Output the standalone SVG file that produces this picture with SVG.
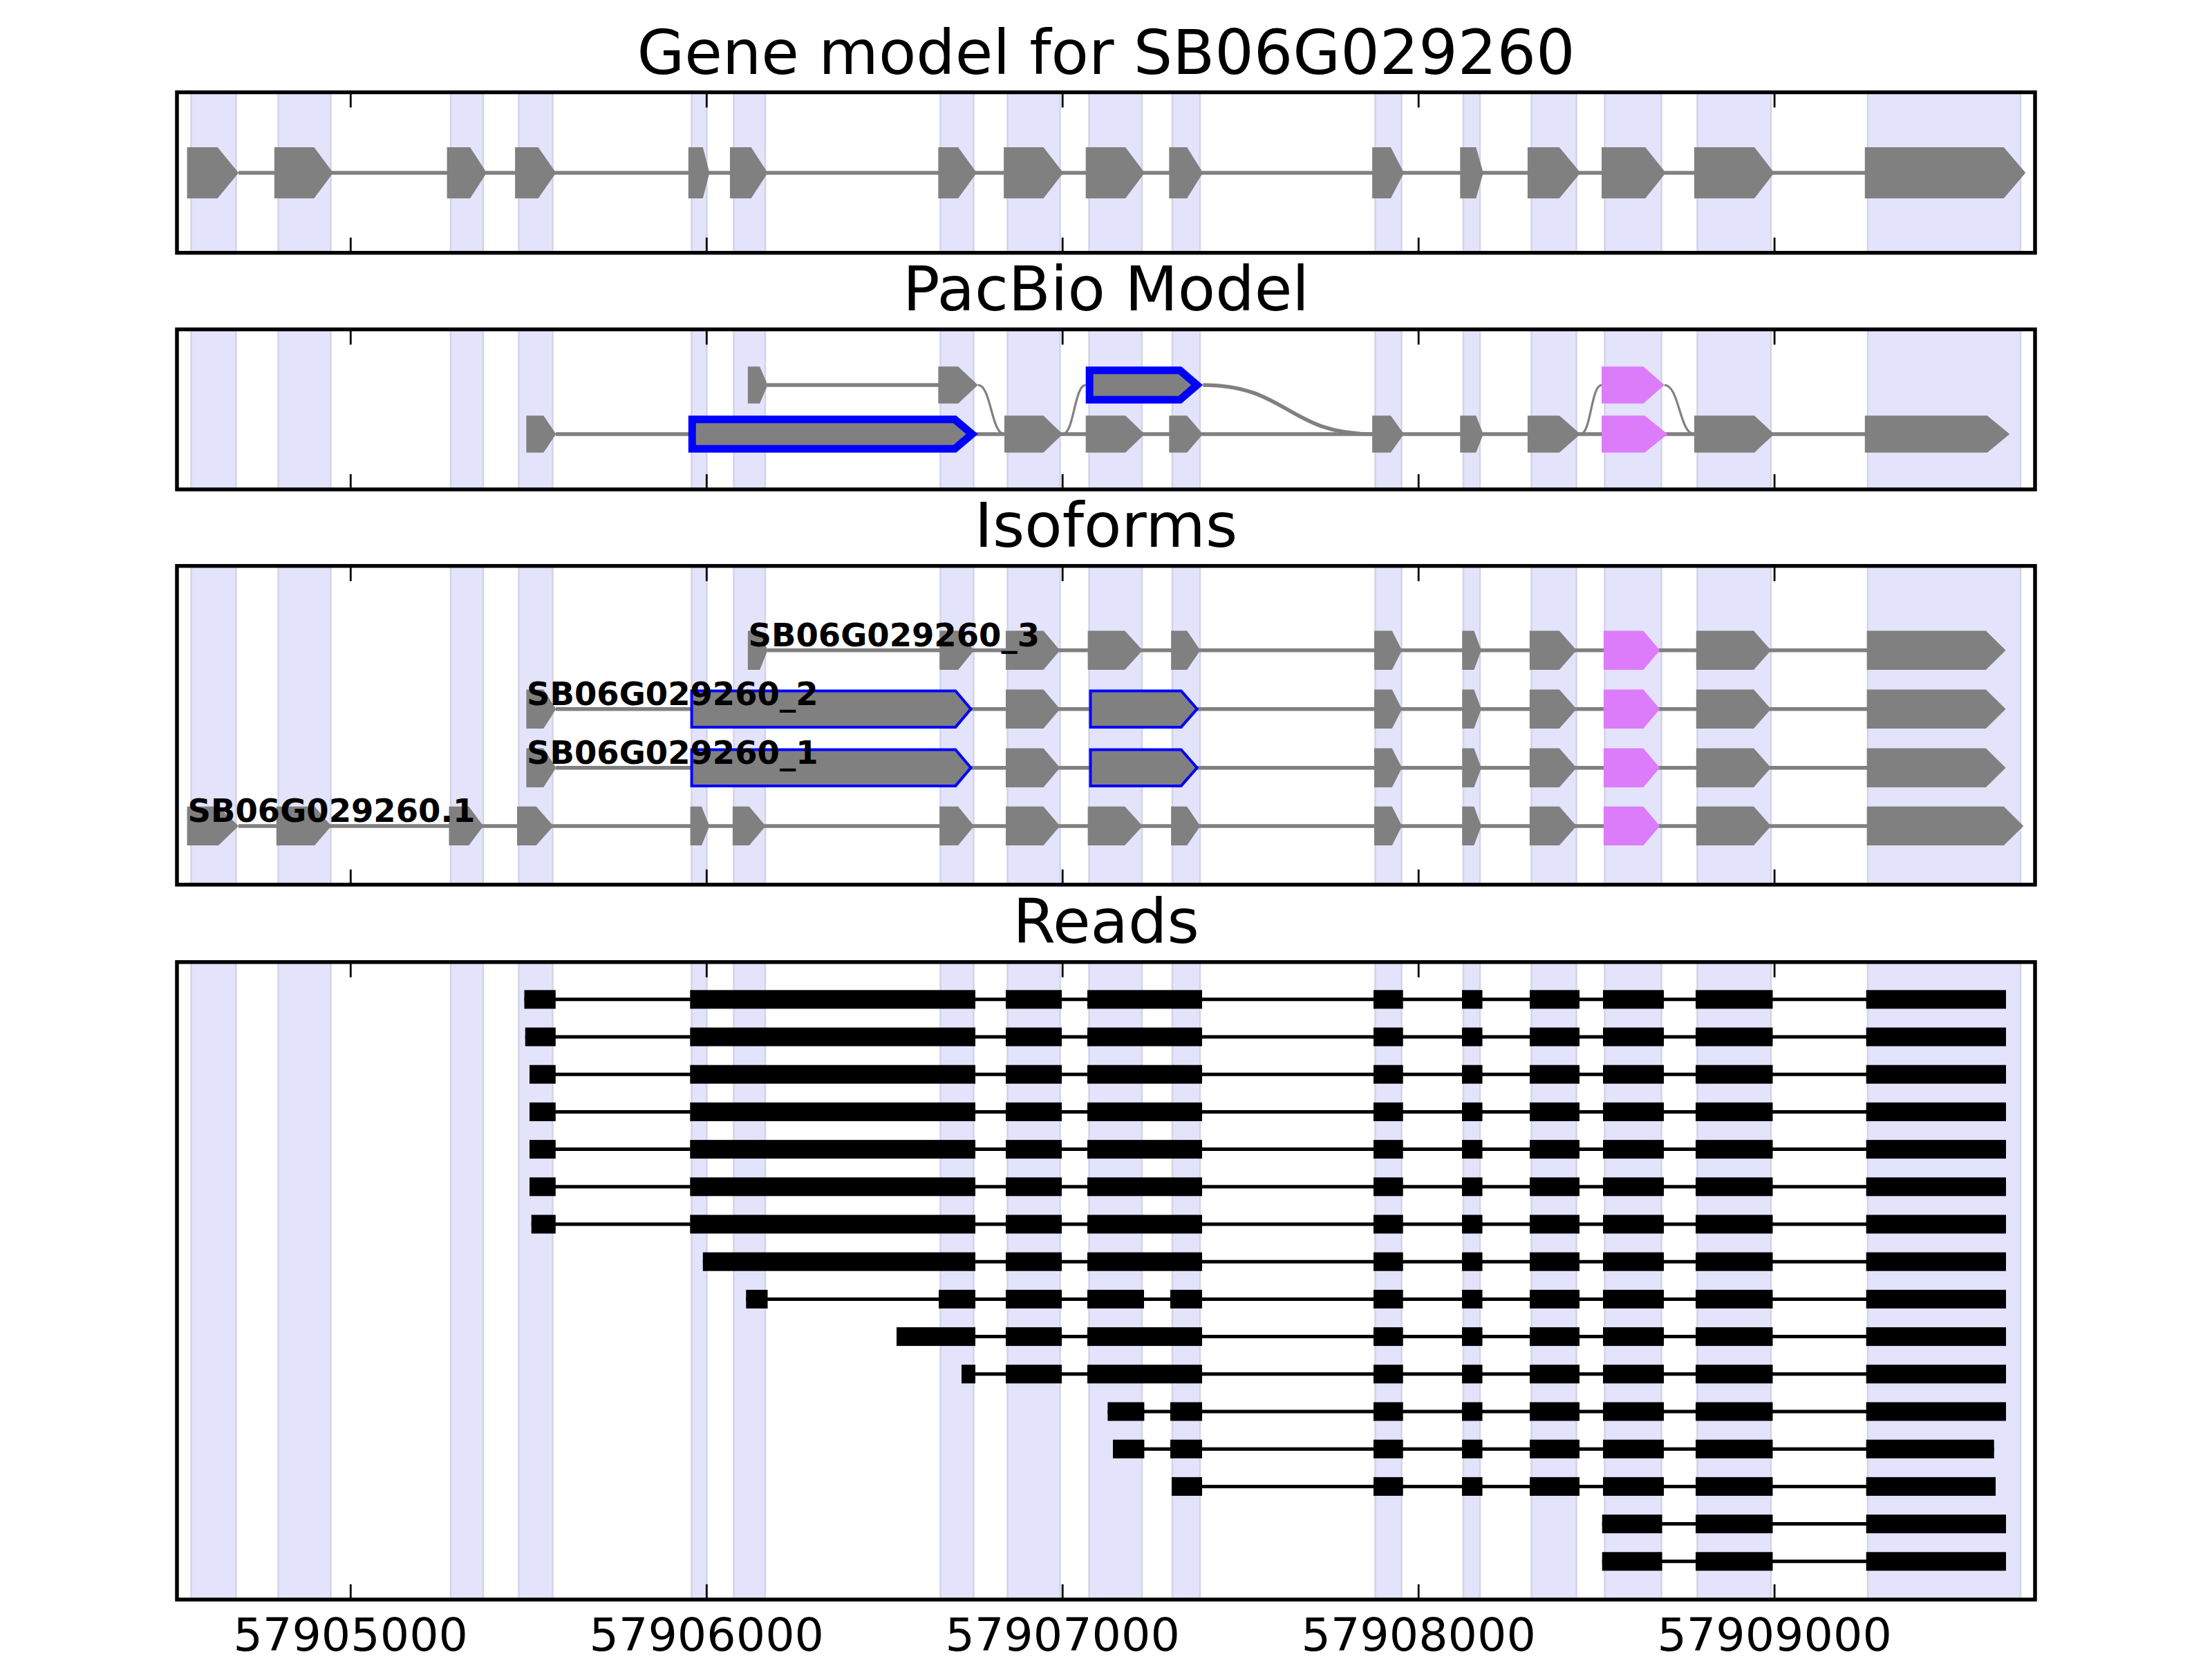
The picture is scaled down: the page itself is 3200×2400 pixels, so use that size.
<svg xmlns="http://www.w3.org/2000/svg" xmlns:xlink="http://www.w3.org/1999/xlink" width="3200" height="2400" viewBox="0 0 3200 2400">
<style>
.bg{fill:#fff}
.band{fill:#E3E3FB;stroke:#D3D3E8;stroke-width:2.5}
.ex{fill:#808080}
.pk{fill:#DD7CFA}
.blt{fill:#808080;stroke:#0000FF;stroke-width:11;stroke-linejoin:miter}
.bli{fill:#808080;stroke:#0000FF;stroke-width:4;stroke-linejoin:miter}
.intr{stroke:#808080;stroke-width:5.5;fill:none}
.cv{stroke:#808080;stroke-width:3.2;fill:none}
.cvk{stroke:#808080;stroke-width:5.5;fill:none}
.rd rect{fill:#000}
.rl{stroke:#000;stroke-width:5}
.frame{fill:none;stroke:#000;stroke-width:5.5}
.tick{stroke:#000;stroke-width:2.8}
.title{font-family:'DejaVu Sans','Liberation Sans',sans-serif;font-size:88.9px;text-anchor:middle;fill:#000}
.lbl{font-family:'DejaVu Sans','Liberation Sans',sans-serif;font-weight:bold;font-size:46.5px;fill:#000}
.tl{font-family:'DejaVu Sans','Liberation Sans',sans-serif;font-size:66.7px;text-anchor:middle;fill:#000}
</style>
<defs>
<g id="isoCommon">
<polygon class="ex" points="1455,-28.2 1509.5,-28.2 1533.4,0 1509.5,28.2 1455,28.2"/>
<polygon class="ex" points="1988,-28.2 2013.8,-28.2 2028.1,0 2013.8,28.2 1988,28.2"/>
<polygon class="ex" points="2115.2,-28.2 2132.4,-28.2 2142.9,0 2132.4,28.2 2115.2,28.2"/>
<polygon class="ex" points="2212.8,-28.2 2255.8,-28.2 2280.7,0 2255.8,28.2 2212.8,28.2"/>
<polygon class="pk" points="2319.9,-28.2 2377.3,-28.2 2401.2,0 2377.3,28.2 2319.9,28.2"/>
<polygon class="ex" points="2453.8,-28.2 2537.1,-28.2 2562,0 2537.1,28.2 2453.8,28.2"/>
</g>
<g id="isoShortEnd">
<polygon class="ex" points="2700.7,-28.2 2872.9,-28.2 2901.6,0 2872.9,28.2 2700.7,28.2"/>
</g>
<g id="isoMid">
<line class="intr" x1="804" y1="0" x2="2701" y2="0"/>
<polygon class="ex" points="761.4,-28.2 786.3,-28.2 804.4,0 786.3,28.2 761.4,28.2"/>
<polygon class="bli" points="1000.6,-26.2 1382.3,-26.2 1404.5,0 1382.3,26.2 1000.6,26.2"/>
<polygon class="bli" points="1577.5,-26.2 1708.7,-26.2 1731.7,0 1708.7,26.2 1577.5,26.2"/>
<use xlink:href="#isoCommon"/>
<use xlink:href="#isoShortEnd"/>
</g>
<g id="rT2">
<rect x="1987" y="-13.5" width="42.7" height="27"/>
<rect x="2115" y="-13.5" width="29.5" height="27"/>
<rect x="2213" y="-13.5" width="72" height="27"/>
<rect x="2319" y="-13.5" width="88" height="27"/>
<rect x="2453" y="-13.5" width="111.5" height="27"/>
</g>
<g id="rT">
<rect x="1455" y="-13.5" width="81" height="27"/>
<rect x="1573" y="-13.5" width="166" height="27"/>
<use xlink:href="#rT2"/>
<rect x="2699.7" y="-13.5" width="202.3" height="27"/>
</g>
<g id="rFull">
<rect x="998.3" y="-13.5" width="412.7" height="27"/>
<use xlink:href="#rT"/>
</g>
</defs>
<rect class="bg" x="0" y="0" width="3200" height="2400"/>

<g id="titles">
<text class="title" x="1600" y="107">Gene model for SB06G029260</text>
<text class="title" x="1600" y="449">PacBio Model</text>
<text class="title" x="1600" y="791">Isoforms</text>
<text class="title" x="1600" y="1364">Reads</text>
</g>

<!-- Panel 1: gene model -->
<g id="panel-gene-model">
<g id="bands-1">
<rect class="band" x="276.5" y="133.5" width="65" height="232.2"/>
<rect class="band" x="402.5" y="133.5" width="76" height="232.2"/>
<rect class="band" x="652" y="133.5" width="47" height="232.2"/>
<rect class="band" x="750.5" y="133.5" width="49" height="232.2"/>
<rect class="band" x="1000.5" y="133.5" width="22" height="232.2"/>
<rect class="band" x="1061.5" y="133.5" width="45.5" height="232.2"/>
<rect class="band" x="1360.5" y="133.5" width="48" height="232.2"/>
<rect class="band" x="1457.5" y="133.5" width="76" height="232.2"/>
<rect class="band" x="1575.5" y="133.5" width="76.5" height="232.2"/>
<rect class="band" x="1696" y="133.5" width="40" height="232.2"/>
<rect class="band" x="1989.5" y="133.5" width="38" height="232.2"/>
<rect class="band" x="2117" y="133.5" width="24" height="232.2"/>
<rect class="band" x="2215.5" y="133.5" width="65" height="232.2"/>
<rect class="band" x="2321.5" y="133.5" width="82" height="232.2"/>
<rect class="band" x="2455.5" y="133.5" width="106.5" height="232.2"/>
<rect class="band" x="2702" y="133.5" width="221" height="232.2"/>
</g>
<g id="gene-model-transcript">
<line class="intr" x1="345" y1="250" x2="2698" y2="250"/>
<polygon class="ex" points="270.6,213 314.6,213 345.2,250 314.6,287 270.6,287"/>
<polygon class="ex" points="396.9,213 454.3,213 482,250 454.3,287 396.9,287"/>
<polygon class="ex" points="646.6,213 680.1,213 704,250 680.1,287 646.6,287"/>
<polygon class="ex" points="745.1,213 778.6,213 804.4,250 778.6,287 745.1,287"/>
<polygon class="ex" points="995.8,213 1016.8,213 1026.4,250 1016.8,287 995.8,287"/>
<polygon class="ex" points="1056,213 1086.6,213 1110.6,250 1086.6,287 1056,287"/>
<polygon class="ex" points="1357.4,213 1386.1,213 1412.9,250 1386.1,287 1357.4,287"/>
<polygon class="ex" points="1452.1,213 1509.5,213 1538.2,250 1509.5,287 1452.1,287"/>
<polygon class="ex" points="1570.7,213 1628.1,213 1655.9,250 1628.1,287 1570.7,287"/>
<polygon class="ex" points="1691.3,213 1717.2,213 1740.2,250 1717.2,287 1691.3,287"/>
<polygon class="ex" points="1985.1,213 2011.9,213 2031,250 2011.9,287 1985.1,287"/>
<polygon class="ex" points="2112.3,213 2135.3,213 2145.8,250 2135.3,287 2112.3,287"/>
<polygon class="ex" points="2209.9,213 2255.8,213 2286.4,250 2255.8,287 2209.9,287"/>
<polygon class="ex" points="2317,213 2380.2,213 2409.8,250 2380.2,287 2317,287"/>
<polygon class="ex" points="2451,213 2538,213 2566.7,250 2538,287 2451,287"/>
<polygon class="ex" points="2697.8,213 2898.7,213 2930.3,250 2898.7,287 2697.8,287"/>
</g>
<rect class="frame" x="256" y="133.5" width="2688" height="232.2"/>
<g id="ticks-1">
<line class="tick" x1="507.3" y1="133.5" x2="507.3" y2="155.5"/><line class="tick" x1="507.3" y1="343.7" x2="507.3" y2="365.7"/>
<line class="tick" x1="1022.3" y1="133.5" x2="1022.3" y2="155.5"/><line class="tick" x1="1022.3" y1="343.7" x2="1022.3" y2="365.7"/>
<line class="tick" x1="1537.2" y1="133.5" x2="1537.2" y2="155.5"/><line class="tick" x1="1537.2" y1="343.7" x2="1537.2" y2="365.7"/>
<line class="tick" x1="2052.2" y1="133.5" x2="2052.2" y2="155.5"/><line class="tick" x1="2052.2" y1="343.7" x2="2052.2" y2="365.7"/>
<line class="tick" x1="2567.1" y1="133.5" x2="2567.1" y2="155.5"/><line class="tick" x1="2567.1" y1="343.7" x2="2567.1" y2="365.7"/>
</g>
</g>

<!-- Panel 2: PacBio model -->
<g id="panel-pacbio">
<g id="bands-2">
<rect class="band" x="276.5" y="476.5" width="65" height="231.5"/>
<rect class="band" x="402.5" y="476.5" width="76" height="231.5"/>
<rect class="band" x="652" y="476.5" width="47" height="231.5"/>
<rect class="band" x="750.5" y="476.5" width="49" height="231.5"/>
<rect class="band" x="1000.5" y="476.5" width="22" height="231.5"/>
<rect class="band" x="1061.5" y="476.5" width="45.5" height="231.5"/>
<rect class="band" x="1360.5" y="476.5" width="48" height="231.5"/>
<rect class="band" x="1457.5" y="476.5" width="76" height="231.5"/>
<rect class="band" x="1575.5" y="476.5" width="76.5" height="231.5"/>
<rect class="band" x="1696" y="476.5" width="40" height="231.5"/>
<rect class="band" x="1989.5" y="476.5" width="38" height="231.5"/>
<rect class="band" x="2117" y="476.5" width="24" height="231.5"/>
<rect class="band" x="2215.5" y="476.5" width="65" height="231.5"/>
<rect class="band" x="2321.5" y="476.5" width="82" height="231.5"/>
<rect class="band" x="2455.5" y="476.5" width="106.5" height="231.5"/>
<rect class="band" x="2702" y="476.5" width="221" height="231.5"/>
</g>
<g id="pacbio-connectors">
<line class="intr" x1="804" y1="628" x2="2698" y2="628"/>
<line class="intr" x1="1110" y1="557" x2="1358" y2="557"/>
<path class="cv" d="M1414.8,557 C1433.9,557 1433.9,628 1453,628"/>
<path class="cv" d="M1537.3,628 C1554,628 1554,557 1570.7,557"/>
<path class="cvk" d="M1740.2,557 C1862.6,557 1862.6,628 1985.1,628"/>
<path class="cv" d="M2286.4,628 C2301.7,628 2301.7,557 2317,557"/>
<path class="cv" d="M2407.9,557 C2429.5,557 2429.5,628 2451,628"/>
</g>
<g id="pacbio-row-b">
<polygon class="ex" points="761.4,601.3 786.3,601.3 804.4,628 786.3,654.7 761.4,654.7"/>
<polygon class="blt" points="1001.3,606.8 1381.2,606.8 1406.3,628 1381.2,649.2 1001.3,649.2"/>
<polygon class="ex" points="1453,601.3 1509.5,601.3 1537.3,628 1509.5,654.7 1453,654.7"/>
<polygon class="ex" points="1570.7,601.3 1628.1,601.3 1655.9,628 1628.1,654.7 1570.7,654.7"/>
<polygon class="ex" points="1691.3,601.3 1717.2,601.3 1740.2,628 1717.2,654.7 1691.3,654.7"/>
<polygon class="ex" points="1985.1,601.3 2011.9,601.3 2031,628 2011.9,654.7 1985.1,654.7"/>
<polygon class="ex" points="2112.3,601.3 2135.3,601.3 2145.8,628 2135.3,654.7 2112.3,654.7"/>
<polygon class="ex" points="2209.9,601.3 2255.8,601.3 2286.4,628 2255.8,654.7 2209.9,654.7"/>
<polygon class="pk" points="2317,601.3 2379.2,601.3 2412.7,628 2379.2,654.7 2317,654.7"/>
<polygon class="ex" points="2451,601.3 2538,601.3 2566.7,628 2538,654.7 2451,654.7"/>
<polygon class="ex" points="2697.8,601.3 2874.8,601.3 2907.3,628 2874.8,654.7 2697.8,654.7"/>
</g>
<g id="pacbio-row-a">
<polygon class="ex" points="1081.9,530.3 1099.1,530.3 1110.6,557 1099.1,583.7 1081.9,583.7"/>
<polygon class="ex" points="1357.4,530.3 1386.1,530.3 1414.8,557 1386.1,583.7 1357.4,583.7"/>
<polygon class="blt" points="1576.2,535.8 1707,535.8 1731.7,557 1707,578.2 1576.2,578.2"/>
<polygon class="pk" points="2317,530.3 2377.3,530.3 2407.9,557 2377.3,583.7 2317,583.7"/>
</g>
<rect class="frame" x="256" y="476.5" width="2688" height="231.5"/>
<g id="ticks-2">
<line class="tick" x1="507.3" y1="476.5" x2="507.3" y2="498.5"/><line class="tick" x1="507.3" y1="686" x2="507.3" y2="708"/>
<line class="tick" x1="1022.3" y1="476.5" x2="1022.3" y2="498.5"/><line class="tick" x1="1022.3" y1="686" x2="1022.3" y2="708"/>
<line class="tick" x1="1537.2" y1="476.5" x2="1537.2" y2="498.5"/><line class="tick" x1="1537.2" y1="686" x2="1537.2" y2="708"/>
<line class="tick" x1="2052.2" y1="476.5" x2="2052.2" y2="498.5"/><line class="tick" x1="2052.2" y1="686" x2="2052.2" y2="708"/>
<line class="tick" x1="2567.1" y1="476.5" x2="2567.1" y2="498.5"/><line class="tick" x1="2567.1" y1="686" x2="2567.1" y2="708"/>
</g>
</g>

<!-- Panel 3: Isoforms -->
<g id="panel-isoforms">
<g id="bands-3">
<rect class="band" x="276.5" y="818.7" width="65" height="461.1"/>
<rect class="band" x="402.5" y="818.7" width="76" height="461.1"/>
<rect class="band" x="652" y="818.7" width="47" height="461.1"/>
<rect class="band" x="750.5" y="818.7" width="49" height="461.1"/>
<rect class="band" x="1000.5" y="818.7" width="22" height="461.1"/>
<rect class="band" x="1061.5" y="818.7" width="45.5" height="461.1"/>
<rect class="band" x="1360.5" y="818.7" width="48" height="461.1"/>
<rect class="band" x="1457.5" y="818.7" width="76" height="461.1"/>
<rect class="band" x="1575.5" y="818.7" width="76.5" height="461.1"/>
<rect class="band" x="1696" y="818.7" width="40" height="461.1"/>
<rect class="band" x="1989.5" y="818.7" width="38" height="461.1"/>
<rect class="band" x="2117" y="818.7" width="24" height="461.1"/>
<rect class="band" x="2215.5" y="818.7" width="65" height="461.1"/>
<rect class="band" x="2321.5" y="818.7" width="82" height="461.1"/>
<rect class="band" x="2455.5" y="818.7" width="106.5" height="461.1"/>
<rect class="band" x="2702" y="818.7" width="221" height="461.1"/>
</g>
<g id="iso-3" transform="translate(0,940.8)">
<line class="intr" x1="1110" y1="0" x2="2701" y2="0"/>
<polygon class="ex" points="1081.9,-28.2 1099.1,-28.2 1110.6,0 1099.1,28.2 1081.9,28.2"/>
<polygon class="ex" points="1359.2,-28.2 1386.1,-28.2 1409.1,0 1386.1,28.2 1359.2,28.2"/>
<polygon class="ex" points="1573.6,-28.2 1627.2,-28.2 1653,0 1627.2,28.2 1573.6,28.2"/>
<polygon class="ex" points="1694.1,-28.2 1717.2,-28.2 1736.4,0 1717.2,28.2 1694.1,28.2"/>
<use xlink:href="#isoCommon"/>
<use xlink:href="#isoShortEnd"/>
<text class="lbl" x="1082.5" y="-5.5">SB06G029260_3</text>
</g>
<g id="iso-2" transform="translate(0,1025.7)">
<use xlink:href="#isoMid"/>
<text class="lbl" x="762" y="-5.5">SB06G029260_2</text>
</g>
<g id="iso-1" transform="translate(0,1110.7)">
<use xlink:href="#isoMid"/>
<text class="lbl" x="762" y="-5.5">SB06G029260_1</text>
</g>
<g id="iso-0" transform="translate(0,1194.9)">
<line class="intr" x1="345" y1="0" x2="2701" y2="0"/>
<polygon class="ex" points="270.6,-28.2 316,-28.2 345.2,0 316,28.2 270.6,28.2"/>
<polygon class="ex" points="399.8,-28.2 455.2,-28.2 479.2,0 455.2,28.2 399.8,28.2"/>
<polygon class="ex" points="649.5,-28.2 678.2,-28.2 699.2,0 678.2,28.2 649.5,28.2"/>
<polygon class="ex" points="748,-28.2 775.7,-28.2 800.6,0 775.7,28.2 748,28.2"/>
<polygon class="ex" points="998.6,-28.2 1014.9,-28.2 1026.4,0 1014.9,28.2 998.6,28.2"/>
<polygon class="ex" points="1059.9,-28.2 1083.8,-28.2 1107.7,0 1083.8,28.2 1059.9,28.2"/>
<polygon class="ex" points="1359.2,-28.2 1386.1,-28.2 1409.1,0 1386.1,28.2 1359.2,28.2"/>
<polygon class="ex" points="1573.6,-28.2 1627.2,-28.2 1653,0 1627.2,28.2 1573.6,28.2"/>
<polygon class="ex" points="1694.1,-28.2 1717.2,-28.2 1736.4,0 1717.2,28.2 1694.1,28.2"/>
<use xlink:href="#isoCommon"/>
<polygon class="ex" points="2700.7,-28.2 2898.7,-28.2 2927.4,0 2898.7,28.2 2700.7,28.2"/>
<text class="lbl" x="271.5" y="-5.5">SB06G029260.1</text>
</g>
<rect class="frame" x="256" y="818.7" width="2688" height="461.1"/>
<g id="ticks-3">
<line class="tick" x1="507.3" y1="818.7" x2="507.3" y2="840.7"/><line class="tick" x1="507.3" y1="1257.8" x2="507.3" y2="1279.8"/>
<line class="tick" x1="1022.3" y1="818.7" x2="1022.3" y2="840.7"/><line class="tick" x1="1022.3" y1="1257.8" x2="1022.3" y2="1279.8"/>
<line class="tick" x1="1537.2" y1="818.7" x2="1537.2" y2="840.7"/><line class="tick" x1="1537.2" y1="1257.8" x2="1537.2" y2="1279.8"/>
<line class="tick" x1="2052.2" y1="818.7" x2="2052.2" y2="840.7"/><line class="tick" x1="2052.2" y1="1257.8" x2="2052.2" y2="1279.8"/>
<line class="tick" x1="2567.1" y1="818.7" x2="2567.1" y2="840.7"/><line class="tick" x1="2567.1" y1="1257.8" x2="2567.1" y2="1279.8"/>
</g>
</g>

<!-- Panel 4: Reads -->
<g id="panel-reads">
<g id="bands-4">
<rect class="band" x="276.5" y="1391.8" width="65" height="922.2"/>
<rect class="band" x="402.5" y="1391.8" width="76" height="922.2"/>
<rect class="band" x="652" y="1391.8" width="47" height="922.2"/>
<rect class="band" x="750.5" y="1391.8" width="49" height="922.2"/>
<rect class="band" x="1000.5" y="1391.8" width="22" height="922.2"/>
<rect class="band" x="1061.5" y="1391.8" width="45.5" height="922.2"/>
<rect class="band" x="1360.5" y="1391.8" width="48" height="922.2"/>
<rect class="band" x="1457.5" y="1391.8" width="76" height="922.2"/>
<rect class="band" x="1575.5" y="1391.8" width="76.5" height="922.2"/>
<rect class="band" x="1696" y="1391.8" width="40" height="922.2"/>
<rect class="band" x="1989.5" y="1391.8" width="38" height="922.2"/>
<rect class="band" x="2117" y="1391.8" width="24" height="922.2"/>
<rect class="band" x="2215.5" y="1391.8" width="65" height="922.2"/>
<rect class="band" x="2321.5" y="1391.8" width="82" height="922.2"/>
<rect class="band" x="2455.5" y="1391.8" width="106.5" height="922.2"/>
<rect class="band" x="2702" y="1391.8" width="221" height="922.2"/>
</g>
<g id="read-0" class="rd" transform="translate(0,1445.8)"><line class="rl" x1="758.5" y1="0" x2="2902" y2="0"/><rect x="758.5" y="-13.5" width="45.3" height="27"/><use xlink:href="#rFull"/></g>
<g id="read-1" class="rd" transform="translate(0,1500)"><line class="rl" x1="759.8" y1="0" x2="2902" y2="0"/><rect x="759.8" y="-13.5" width="44" height="27"/><use xlink:href="#rFull"/></g>
<g id="read-2" class="rd" transform="translate(0,1554.2)"><line class="rl" x1="766" y1="0" x2="2902" y2="0"/><rect x="766" y="-13.5" width="37.8" height="27"/><use xlink:href="#rFull"/></g>
<g id="read-3" class="rd" transform="translate(0,1608.4)"><line class="rl" x1="766" y1="0" x2="2902" y2="0"/><rect x="766" y="-13.5" width="37.8" height="27"/><use xlink:href="#rFull"/></g>
<g id="read-4" class="rd" transform="translate(0,1662.6)"><line class="rl" x1="766" y1="0" x2="2902" y2="0"/><rect x="766" y="-13.5" width="37.8" height="27"/><use xlink:href="#rFull"/></g>
<g id="read-5" class="rd" transform="translate(0,1716.8)"><line class="rl" x1="766" y1="0" x2="2902" y2="0"/><rect x="766" y="-13.5" width="37.8" height="27"/><use xlink:href="#rFull"/></g>
<g id="read-6" class="rd" transform="translate(0,1771)"><line class="rl" x1="768.7" y1="0" x2="2902" y2="0"/><rect x="768.7" y="-13.5" width="35.1" height="27"/><use xlink:href="#rFull"/></g>
<g id="read-7" class="rd" transform="translate(0,1825.2)"><line class="rl" x1="1016.8" y1="0" x2="2902" y2="0"/><rect x="1016.8" y="-13.5" width="394.2" height="27"/><use xlink:href="#rT"/></g>
<g id="read-8" class="rd" transform="translate(0,1879.4)"><line class="rl" x1="1079.3" y1="0" x2="2902" y2="0"/>
<rect x="1079.3" y="-13.5" width="31.2" height="27"/><rect x="1358" y="-13.5" width="53" height="27"/><rect x="1455" y="-13.5" width="81" height="27"/><rect x="1573" y="-13.5" width="82" height="27"/><rect x="1693" y="-13.5" width="46" height="27"/><use xlink:href="#rT2"/><rect x="2699.7" y="-13.5" width="202.3" height="27"/></g>
<g id="read-9" class="rd" transform="translate(0,1933.6)"><line class="rl" x1="1297" y1="0" x2="2902" y2="0"/><rect x="1297" y="-13.5" width="114" height="27"/><use xlink:href="#rT"/></g>
<g id="read-10" class="rd" transform="translate(0,1987.8)"><line class="rl" x1="1391" y1="0" x2="2902" y2="0"/><rect x="1391" y="-13.5" width="20" height="27"/><use xlink:href="#rT"/></g>
<g id="read-11" class="rd" transform="translate(0,2042)"><line class="rl" x1="1602.4" y1="0" x2="2902" y2="0"/><rect x="1602.4" y="-13.5" width="53" height="27"/><rect x="1693" y="-13.5" width="46" height="27"/><use xlink:href="#rT2"/><rect x="2699.7" y="-13.5" width="202.3" height="27"/></g>
<g id="read-12" class="rd" transform="translate(0,2096.2)"><line class="rl" x1="1610" y1="0" x2="2884.7" y2="0"/><rect x="1610" y="-13.5" width="45.4" height="27"/><rect x="1693" y="-13.5" width="46" height="27"/><use xlink:href="#rT2"/><rect x="2699.7" y="-13.5" width="185" height="27"/></g>
<g id="read-13" class="rd" transform="translate(0,2150.4)"><line class="rl" x1="1695" y1="0" x2="2887" y2="0"/><rect x="1695" y="-13.5" width="44" height="27"/><use xlink:href="#rT2"/><rect x="2699.7" y="-13.5" width="187.3" height="27"/></g>
<g id="read-14" class="rd" transform="translate(0,2204.6)"><line class="rl" x1="2317.7" y1="0" x2="2902" y2="0"/><rect x="2317.7" y="-13.5" width="86.8" height="27"/><rect x="2453" y="-13.5" width="111.5" height="27"/><rect x="2699.7" y="-13.5" width="202.3" height="27"/></g>
<g id="read-15" class="rd" transform="translate(0,2258.8)"><line class="rl" x1="2317.7" y1="0" x2="2902" y2="0"/><rect x="2317.7" y="-13.5" width="86.8" height="27"/><rect x="2453" y="-13.5" width="111.5" height="27"/><rect x="2699.7" y="-13.5" width="202.3" height="27"/></g>
<rect class="frame" x="256" y="1391.8" width="2688" height="922.2"/>
<g id="ticks-4">
<line class="tick" x1="507.3" y1="1391.8" x2="507.3" y2="1413.8"/><line class="tick" x1="507.3" y1="2292" x2="507.3" y2="2314"/>
<line class="tick" x1="1022.3" y1="1391.8" x2="1022.3" y2="1413.8"/><line class="tick" x1="1022.3" y1="2292" x2="1022.3" y2="2314"/>
<line class="tick" x1="1537.2" y1="1391.8" x2="1537.2" y2="1413.8"/><line class="tick" x1="1537.2" y1="2292" x2="1537.2" y2="2314"/>
<line class="tick" x1="2052.2" y1="1391.8" x2="2052.2" y2="1413.8"/><line class="tick" x1="2052.2" y1="2292" x2="2052.2" y2="2314"/>
<line class="tick" x1="2567.1" y1="1391.8" x2="2567.1" y2="1413.8"/><line class="tick" x1="2567.1" y1="2292" x2="2567.1" y2="2314"/>
</g>
<g id="tick-labels">
<text class="tl" x="507.3" y="2388">57905000</text>
<text class="tl" x="1022.3" y="2388">57906000</text>
<text class="tl" x="1537.2" y="2388">57907000</text>
<text class="tl" x="2052.2" y="2388">57908000</text>
<text class="tl" x="2567.1" y="2388">57909000</text>
</g>
</g>
</svg>
